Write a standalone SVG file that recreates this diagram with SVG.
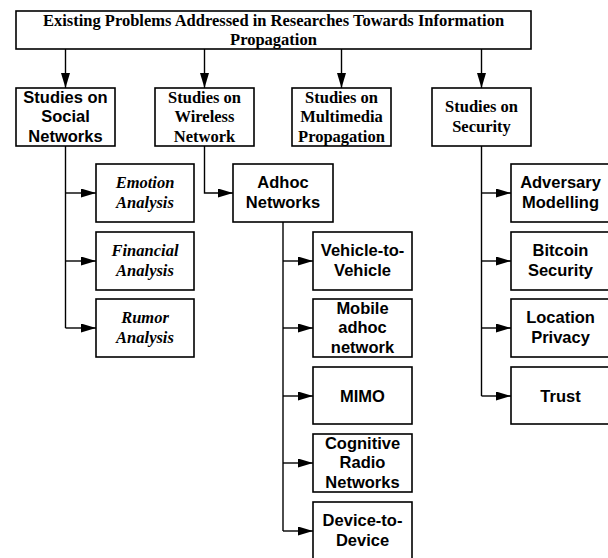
<svg xmlns="http://www.w3.org/2000/svg" width="608" height="558" viewBox="0 0 608 558">
<style>
.box{fill:#fff;stroke:#000;stroke-width:1.6}
.serif{font-family:"Liberation Serif","Times New Roman",serif;font-weight:bold;font-size:16.5px;text-anchor:middle;fill:#000}
.sans{font-family:"Liberation Sans",Arial,sans-serif;font-weight:bold;font-size:16.5px;text-anchor:middle;fill:#000}
.ital{font-style:italic}
.conn{fill:none;stroke:#000;stroke-width:1.4;marker-end:url(#arr)}
</style>
<defs>
<marker id="arr" markerUnits="userSpaceOnUse" markerWidth="16" markerHeight="10" refX="15" refY="4.5" orient="auto">
<path d="M0,0 L15,4.5 L0,9 z" fill="#000"/>
</marker>
</defs>
<rect width="608" height="558" fill="#fff"/>
<g id="connectors">
<path class="conn" d="M65.5,49 V88"/>
<path class="conn" d="M204.5,49 V88"/>
<path class="conn" d="M341.5,49 V88"/>
<path class="conn" d="M481.5,49 V88"/>
<path fill="none" stroke="#000" stroke-width="1.4" d="M65.5,146 V328"/>
<path class="conn" d="M65.5,193 H96"/>
<path class="conn" d="M65.5,261 H96"/>
<path class="conn" d="M65.5,328 H96"/>
<path class="conn" d="M204.5,146 V193 H233"/>
<path fill="none" stroke="#000" stroke-width="1.4" d="M283,222 V531"/>
<path class="conn" d="M283,261 H313"/>
<path class="conn" d="M283,328 H313"/>
<path class="conn" d="M283,396 H313"/>
<path class="conn" d="M283,463 H313"/>
<path class="conn" d="M283,531 H313"/>
<path fill="none" stroke="#000" stroke-width="1.4" d="M481.5,146 V396"/>
<path class="conn" d="M481.5,193 H511"/>
<path class="conn" d="M481.5,261 H511"/>
<path class="conn" d="M481.5,328 H511"/>
<path class="conn" d="M481.5,396 H511"/>
</g>
<g id="root"><rect class="box" x="16" y="11" width="515" height="38"/>
<text class="serif" x="273.5" y="25.5">Existing Problems Addressed in Researches Towards Information</text>
<text class="serif" x="273.5" y="45">Propagation</text></g>
<g id="social"><rect class="box" x="16" y="88" width="99" height="58"/>
<text class="sans" x="65.5" y="102.5">Studies on</text><text class="sans" x="65.5" y="122">Social</text><text class="sans" x="65.5" y="141.5">Networks</text></g>
<g id="wireless"><rect class="box" x="155" y="88" width="99" height="58"/>
<text class="serif" x="204.5" y="102.5">Studies on</text><text class="serif" x="204.5" y="122">Wireless</text><text class="serif" x="204.5" y="141.5">Network</text></g>
<g id="multimedia"><rect class="box" x="292" y="88" width="99" height="58"/>
<text class="serif" x="341.5" y="102.5">Studies on</text><text class="serif" x="341.5" y="122">Multimedia</text><text class="serif" x="341.5" y="141.5">Propagation</text></g>
<g id="security"><rect class="box" x="432" y="88" width="99" height="58"/>
<text class="serif" x="481.5" y="112.25">Studies on</text><text class="serif" x="481.5" y="131.75">Security</text></g>
<g id="emotion"><rect class="box" x="96" y="164" width="98" height="58"/>
<text class="serif ital" x="145" y="188.25">Emotion</text><text class="serif ital" x="145" y="207.75">Analysis</text></g>
<g id="financial"><rect class="box" x="96" y="232" width="98" height="58"/>
<text class="serif ital" x="145" y="256.25">Financial</text><text class="serif ital" x="145" y="275.75">Analysis</text></g>
<g id="rumor"><rect class="box" x="96" y="299" width="98" height="58"/>
<text class="serif ital" x="145" y="323.25">Rumor</text><text class="serif ital" x="145" y="342.75">Analysis</text></g>
<g id="adhoc"><rect class="box" x="233" y="164" width="100" height="58"/>
<text class="sans" x="283" y="188.25">Adhoc</text><text class="sans" x="283" y="207.75">Networks</text></g>
<g id="v2v"><rect class="box" x="313" y="232" width="99" height="58"/>
<text class="sans" x="362.5" y="256.25">Vehicle-to-</text><text class="sans" x="362.5" y="275.75">Vehicle</text></g>
<g id="manet"><rect class="box" x="313" y="299" width="99" height="58"/>
<text class="sans" x="362.5" y="313.5">Mobile</text><text class="sans" x="362.5" y="333">adhoc</text><text class="sans" x="362.5" y="352.5">network</text></g>
<g id="mimo"><rect class="box" x="313" y="367" width="99" height="57"/>
<text class="sans" x="362.5" y="401.5">MIMO</text></g>
<g id="cognitive"><rect class="box" x="313" y="434" width="99" height="58"/>
<text class="sans" x="362.5" y="448.5">Cognitive</text><text class="sans" x="362.5" y="468">Radio</text><text class="sans" x="362.5" y="487.5">Networks</text></g>
<g id="d2d"><rect class="box" x="313" y="502" width="99" height="60"/>
<text class="sans" x="362.5" y="526.25">Device-to-</text><text class="sans" x="362.5" y="545.75">Device</text></g>
<g id="adversary"><rect class="box" x="511" y="164" width="99" height="58"/>
<text class="sans" x="560.5" y="188.25">Adversary</text><text class="sans" x="560.5" y="207.75">Modelling</text></g>
<g id="bitcoin"><rect class="box" x="511" y="232" width="99" height="58"/>
<text class="sans" x="560.5" y="256.25">Bitcoin</text><text class="sans" x="560.5" y="275.75">Security</text></g>
<g id="location"><rect class="box" x="511" y="299" width="99" height="58"/>
<text class="sans" x="560.5" y="323.25">Location</text><text class="sans" x="560.5" y="342.75">Privacy</text></g>
<g id="trust"><rect class="box" x="511" y="367" width="99" height="57"/>
<text class="sans" x="560.5" y="401.5">Trust</text></g>
</svg>
